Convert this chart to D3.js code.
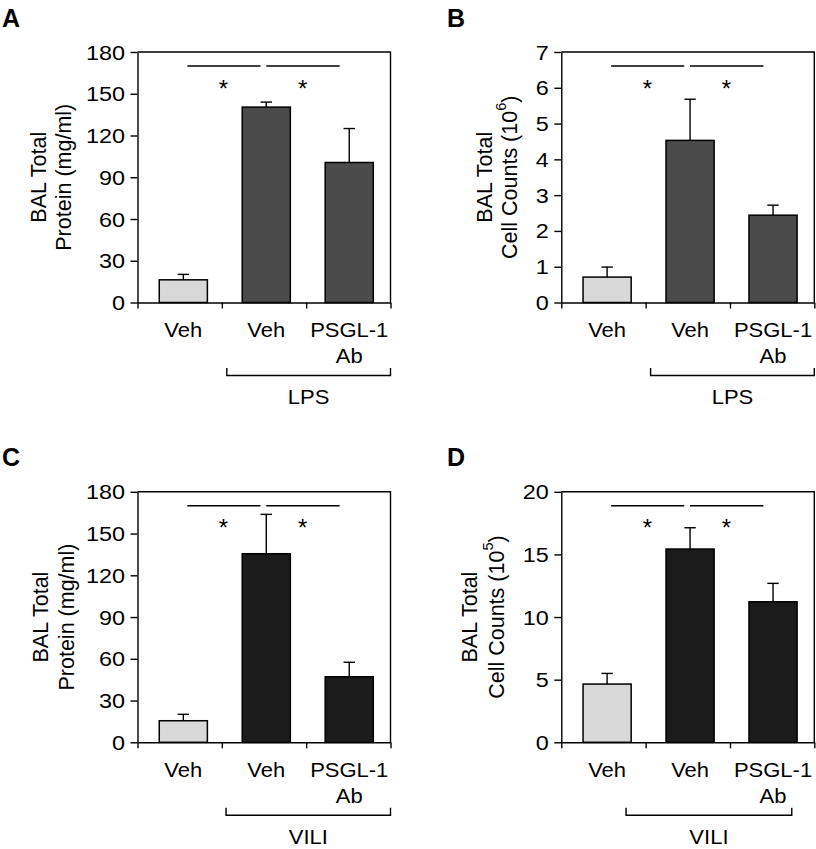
<!DOCTYPE html>
<html>
<head>
<meta charset="utf-8">
<script src="https://cdn.jsdelivr.net/npm/d3@7/dist/d3.min.js"></script>
<style>
  html, body { margin: 0; padding: 0; background: #fff; }
  svg { display: block; }
  text { font-family: "Liberation Sans", Arial, Helvetica, sans-serif; fill: #000; }
</style>
</head>
<body>
<script>
// ---------------- DATA ----------------
const categoryKeys = ["control", "vehicle", "psgl1"];
const categoryLabels = [["Veh"], ["Veh"], ["PSGL-1", "Ab"]];

const panelLetters = ["A", "B", "C", "D"];
const treatmentLabels = ["LPS", "LPS", "VILI", "VILI"];

const proteinLPS = [16.3, 140.4, 100.6];
const proteinLPSErr = [3.9, 3.6, 24.4];

const cellsLPS = [0.71, 4.53, 2.44];
const cellsLPSErr = [0.28, 1.15, 0.28];

const proteinVILI = [15.5, 135.5, 47.1];
const proteinVILIErr = [4.6, 28.3, 10.4];

const cellsVILI = [4.65, 15.43, 11.22];
const cellsVILIErr = [0.85, 1.70, 1.47];

const proteinTicks = [0, 30, 60, 90, 120, 150, 180];
const cellsLPSTicks = [0, 1, 2, 3, 4, 5, 6, 7];
const cellsVILITicks = [0, 5, 10, 15, 20];

const proteinTitle = ["BAL Total", "Protein (mg/ml)"];
const cellsLPSTitle = ["BAL Total", "Cell Counts (10", "6", ")"];
const cellsVILITitle = ["BAL Total", "Cell Counts (10", "5", ")"];

// ---------------- STYLE / LAYOUT ----------------
const W = 816, H = 849;
const colorControl = "#d8d8d8";
const colorLPS = "#4b4b4b";
const colorVILI = "#1b1b1b";

const panels = [
  { letter: panelLetters[0], values: proteinLPS, errs: proteinLPSErr, ticks: proteinTicks, title: proteinTitle,
    group: treatmentLabels[0], color: colorLPS, left: 137.5, top: 52, letterX: 2,
    titleX: [-99.5, -74.5], bracket: [0.353, 1.0] },
  { letter: panelLetters[1], values: cellsLPS, errs: cellsLPSErr, ticks: cellsLPSTicks, title: cellsLPSTitle,
    group: treatmentLabels[1], color: colorLPS, left: 561.3, top: 52, letterX: 447,
    titleX: [-77.3, -52.3], bracket: [0.353, 1.0] },
  { letter: panelLetters[2], values: proteinVILI, errs: proteinVILIErr, ticks: proteinTicks, title: proteinTitle,
    group: treatmentLabels[2], color: colorVILI, left: 137.5, top: 491.8, letterX: 2,
    titleX: [-97.5, -70.8], bracket: [0.35, 1.0] },
  { letter: panelLetters[3], values: cellsVILI, errs: cellsVILIErr, ticks: cellsVILITicks, title: cellsVILITitle,
    group: treatmentLabels[3], color: colorVILI, left: 561.3, top: 491.8, letterX: 447,
    titleX: [-92, -65.3], bracket: [0.256, 0.911] }
];

const PW = 253, PH = 250.5;
const tickFont = 19.5, tickStretch = 1.2;
const labelFont = 20, labelStretch = 1.1;
const titleFont = 21.5;

const svg = d3.select("body").append("svg").attr("width", W).attr("height", H);

function drawPanel(p) {
  const g = svg.append("g").attr("transform", `translate(${p.left},${p.top})`);
  const y = d3.scaleLinear().domain([0, p.ticks[p.ticks.length - 1]]).range([PH, 0]);
  const xBar = d3.scaleBand().domain(categoryKeys).range([0.086 * PW, 0.932 * PW]).paddingInner(0.42).paddingOuter(0);
  const xSec = d3.scaleLinear().domain([0, categoryKeys.length]).range([0, PW]);
  const fills = [colorControl, p.color, p.color];

  // frame (top + right)
  g.append("path")
    .attr("d", `M0,0 H${PW} V${PH}`)
    .attr("fill", "none").attr("stroke", "#000").attr("stroke-width", 1.4);

  // y axis
  const yAxis = g.append("g").call(d3.axisLeft(y).tickValues(p.ticks).tickFormat(d3.format("d"))
    .tickSize(7).tickPadding(5).tickSizeOuter(0));
  yAxis.select(".domain").attr("stroke", "#000").attr("stroke-width", 1.4);
  yAxis.selectAll(".tick line").attr("stroke", "#000").attr("stroke-width", 1.4);
  yAxis.selectAll(".tick text")
    .attr("font-size", tickFont)
    .attr("font-family", "Liberation Sans, Arial, sans-serif")
    .attr("x", null).attr("dy", "0.36em")
    .attr("transform", `translate(-12.5,0) scale(${tickStretch},1)`);

  // x axis (section ticks)
  const xAxis = g.append("g").attr("transform", `translate(0,${PH})`)
    .call(d3.axisBottom(xSec).tickValues(d3.range(0, categoryKeys.length + 1)).tickSize(6).tickFormat("").tickSizeOuter(0));
  xAxis.select(".domain").attr("stroke", "#000").attr("stroke-width", 1.4);
  xAxis.selectAll(".tick line").attr("stroke", "#000").attr("stroke-width", 1.4);

  // error bars
  const eb = g.append("g");
  p.values.forEach((v, i) => {
    const cx = xBar(categoryKeys[i]) + xBar.bandwidth() / 2;
    eb.append("line").attr("x1", cx).attr("x2", cx).attr("y1", y(v)).attr("y2", y(v + p.errs[i]))
      .attr("stroke", "#000").attr("stroke-width", 1.4);
    eb.append("line").attr("x1", cx - 5.7).attr("x2", cx + 5.7).attr("y1", y(v + p.errs[i])).attr("y2", y(v + p.errs[i]))
      .attr("stroke", "#000").attr("stroke-width", 1.4);
  });

  // bars
  g.append("g").selectAll("rect").data(p.values).join("rect")
    .attr("x", (d, i) => xBar(categoryKeys[i]))
    .attr("width", xBar.bandwidth())
    .attr("y", d => y(d))
    .attr("height", d => PH - y(d))
    .attr("fill", (d, i) => fills[i])
    .attr("stroke", "#000").attr("stroke-width", 1.5);

  // significance lines
  [[0.197, 0.486], [0.509, 0.799]].forEach(([a, b]) => {
    g.append("line").attr("x1", a * PW).attr("x2", b * PW).attr("y1", 14).attr("y2", 14)
      .attr("stroke", "#000").attr("stroke-width", 1.5);
  });
  [0.34, 0.653].forEach(f => {
    g.append("text").attr("x", f * PW).attr("y", 44.5).attr("text-anchor", "middle")
      .attr("font-size", 24).text("*");
  });

  // category labels
  categoryLabels.forEach((lines, i) => {
    const cx = xBar(categoryKeys[i]) + xBar.bandwidth() / 2;
    lines.forEach((s, j) => {
      g.append("text")
        .attr("transform", `translate(${cx},${PH + 34.7 + j * 25.6}) scale(${labelStretch},1)`)
        .attr("text-anchor", "middle").attr("font-size", labelFont).text(s);
    });
  });

  // treatment bracket
  const bx0 = p.bracket[0] * PW, bx1 = p.bracket[1] * PW, by = PH + 73;
  g.append("path").attr("d", `M${bx0},${by - 7.5} V${by} H${bx1} V${by - 7.5}`)
    .attr("fill", "none").attr("stroke", "#000").attr("stroke-width", 1.4);
  g.append("text")
    .attr("transform", `translate(${(bx0 + bx1) / 2},${by + 28.3}) scale(${labelStretch},1)`)
    .attr("text-anchor", "middle").attr("font-size", labelFont).text(p.group);

  // y title
  g.append("text")
    .attr("transform", `translate(${p.titleX[0]},${PH / 2}) rotate(-90)`)
    .attr("text-anchor", "middle").attr("dy", "0.36em").attr("font-size", titleFont).text(p.title[0]);
  const t2 = g.append("text")
    .attr("transform", `translate(${p.titleX[1]},${PH / 2}) rotate(-90)`)
    .attr("text-anchor", "middle").attr("dy", "0.36em").attr("font-size", titleFont);
  t2.append("tspan").text(p.title[1]);
  if (p.title.length > 2) {
    t2.append("tspan").attr("font-size", titleFont * 0.68).attr("dy", "-0.75em").text(p.title[2]);
    t2.append("tspan").attr("dy", "0.5em").text(p.title[3]);
  }

  // panel letter
  svg.append("text").attr("x", p.letterX).attr("y", p.top - 25.5)
    .attr("font-size", 25).attr("font-weight", "bold").text(p.letter);
}

panels.forEach(drawPanel);
</script>
</body>
</html>
